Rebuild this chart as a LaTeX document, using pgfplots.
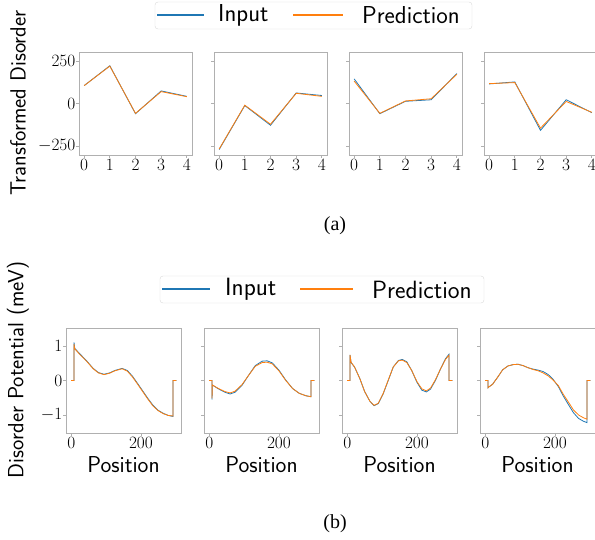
\documentclass[border=0pt]{standalone}
\usepackage{fontspec}
\usepackage{pgfplots}
\pgfplotsset{compat=1.18}
\newfontfamily\capfont{Liberation Serif}
\definecolor{inblue}{HTML}{1F77B4}
\definecolor{predorange}{HTML}{FF7F0E}
\definecolor{framegray}{RGB}{176,176,176}

\pgfplotsset{
  panel/.style={
    scale only axis, anchor=south west,
    axis line style={framegray, line width=0.8pt},
    tick style={framegray, line width=0.8pt},
    tick align=outside, major tick length=3pt,
    xtick pos=bottom, ytick pos=left,
    tick label style={font=\fontsize{16.5}{18}\selectfont},
    xticklabel style={inner ysep=1.5pt},
    yticklabel style={inner xsep=0.5pt},
  },
  toprow/.style={panel, width=113pt, height=103pt,
    xmin=-0.2, xmax=4.2, ymin=-303, ymax=303,
    xtick={0,1,2,3,4}, ytick={-250,0,250}},
  botrow/.style={panel, width=115pt, height=105pt,
    xmin=-15, xmax=315, ymin=-1.52, ymax=1.52,
    xtick={0,200}, ytick={-1,0,1},
    xlabel={Position}, xlabel style={font=\fontsize{23}{25}\sffamily, inner sep=0pt, yshift=-6pt}},
  nolabels/.style={yticklabels={}},
}

\begin{document}
\begin{tikzpicture}[x=1pt,y=1pt]

% ---- row (a): transformed disorder
\begin{axis}[toprow, at={(79pt,384pt)}]
\addplot[inblue, line width=0.8pt] coordinates {(0,105) (1,222) (2,-60) (3,74) (4,42)};
\addplot[predorange, line width=0.8pt] coordinates {(0,105) (1,220) (2,-58) (3,70) (4,40)};
\end{axis}

\begin{axis}[toprow, nolabels, at={(214pt,384pt)}]
\addplot[inblue, line width=0.8pt] coordinates {(0,-271) (1,-12) (2,-128) (3,62) (4,47)};
\addplot[predorange, line width=0.8pt] coordinates {(0,-268) (1,-10) (2,-122) (3,60) (4,42)};
\end{axis}

\begin{axis}[toprow, nolabels, at={(349pt,384pt)}]
\addplot[inblue, line width=0.8pt] coordinates {(0,145) (1,-60) (2,13) (3,22) (4,176)};
\addplot[predorange, line width=0.8pt] coordinates {(0,132) (1,-58) (2,15) (3,28) (4,172)};
\end{axis}

\begin{axis}[toprow, nolabels, at={(484pt,384pt)}]
\addplot[inblue, line width=0.8pt] coordinates {(0,115) (1,127) (2,-158) (3,22) (4,-54)};
\addplot[predorange, line width=0.8pt] coordinates {(0,117) (1,123) (2,-145) (3,12) (4,-52)};
\end{axis}

% ---- row (b): disorder potential
\begin{axis}[botrow, at={(66pt,106pt)}]
\addplot[inblue, line width=0.8pt] coordinates {(0,0) (8,0) (8,1.1) (10,0.93) (24,0.78) (44,0.57) (63,0.35)
  (78,0.23) (94,0.18) (110,0.22) (125,0.29) (146,0.35) (161,0.29) (176,0.12) (190,-0.08)
  (205,-0.30) (220,-0.52) (234,-0.71) (249,-0.86) (264,-0.95) (278,-1.01) (292,-1.04)
  (292,0) (302,0)};
\addplot[predorange, line width=0.8pt] coordinates {(0,0) (8,0) (8,1.05) (10,0.92) (24,0.76) (44,0.56) (63,0.34)
  (78,0.22) (94,0.17) (110,0.21) (125,0.28) (146,0.34) (161,0.27) (176,0.10) (190,-0.10)
  (205,-0.32) (220,-0.54) (234,-0.73) (249,-0.87) (264,-0.96) (278,-1.01) (292,-1.03)
  (292,0) (302,0)};
\end{axis}

\begin{axis}[botrow, nolabels, at={(204pt,106pt)}]
\addplot[inblue, line width=0.8pt] coordinates {(0,0) (8,0) (8,-0.55) (9,-0.13) (26,-0.24) (45,-0.34) (60,-0.39)
  (74,-0.34) (94,-0.14) (113,0.15) (132,0.43) (152,0.56) (166,0.57) (181,0.51) (200,0.30)
  (219,0.02) (239,-0.23) (258,-0.37) (277,-0.44) (292,-0.47) (292,0) (302,0)};
\addplot[predorange, line width=0.8pt] coordinates {(0,0) (8,0) (8,-0.52) (9,-0.13) (26,-0.23) (45,-0.32) (60,-0.36)
  (74,-0.31) (94,-0.12) (113,0.15) (132,0.41) (152,0.52) (166,0.53) (181,0.48) (200,0.28)
  (219,0.01) (239,-0.23) (258,-0.37) (277,-0.44) (292,-0.47) (292,0) (302,0)};
\end{axis}

\begin{axis}[botrow, nolabels, at={(342pt,106pt)}]
\addplot[inblue, line width=0.8pt] coordinates {(0,0) (8,0) (8,0.74) (11,0.52) (21,0.39) (36,0.06) (50,-0.32)
  (65,-0.60) (77,-0.73) (89,-0.67) (103,-0.39) (118,0.01) (132,0.39) (147,0.58) (158,0.61)
  (171,0.54) (185,0.29) (200,-0.05) (214,-0.28) (227,-0.33) (239,-0.25) (253,0.0)
  (268,0.34) (282,0.63) (292,0.76) (292,0) (302,0)};
\addplot[predorange, line width=0.8pt] coordinates {(0,0) (8,0) (8,0.74) (11,0.53) (21,0.39) (36,0.06) (50,-0.32)
  (65,-0.60) (77,-0.72) (89,-0.66) (103,-0.38) (118,0.02) (132,0.39) (147,0.57) (158,0.59)
  (171,0.52) (185,0.29) (200,-0.03) (214,-0.24) (227,-0.30) (239,-0.22) (253,0.02)
  (268,0.34) (282,0.61) (292,0.73) (292,0) (302,0)};
\end{axis}

\begin{axis}[botrow, nolabels, at={(480pt,106pt)}]
\addplot[inblue, line width=0.8pt] coordinates {(0,0) (8,0) (8,-0.21) (10,-0.19) (21,-0.11) (36,0.10) (50,0.31)
  (65,0.42) (80,0.46) (94,0.47) (109,0.43) (123,0.37) (137,0.33) (152,0.30) (166,0.26)
  (181,0.17) (195,0.03) (210,-0.18) (224,-0.45) (239,-0.70) (253,-0.93) (268,-1.10)
  (282,-1.18) (292,-1.22) (292,0) (302,0)};
\addplot[predorange, line width=0.8pt] coordinates {(0,0) (8,0) (8,-0.21) (10,-0.19) (21,-0.11) (36,0.10) (50,0.31)
  (65,0.42) (80,0.46) (94,0.47) (109,0.43) (123,0.37) (137,0.32) (152,0.28) (166,0.22)
  (181,0.13) (195,0.01) (210,-0.15) (224,-0.40) (239,-0.63) (253,-0.85) (268,-1.00)
  (282,-1.08) (292,-1.12) (292,0) (302,0)};
\end{axis}

% ---- legends (drawn by hand, one above each row)
\draw[black!15, fill=white, rounded corners=3pt] (155,510) rectangle (472,537);
\fill[inblue] (157,522.5) rectangle (204,524.5);
\node[anchor=west, inner sep=0pt, font=\fontsize{24.5}{27}\sffamily] at (218,523.5) {Input};
\fill[predorange] (293,522.5) rectangle (343,524.5);
\node[anchor=west, inner sep=0pt, font=\fontsize{24.5}{27}\sffamily] at (362,523.5) {Prediction};

\draw[black!15, fill=white, rounded corners=3pt] (160,236) rectangle (484,263);
\fill[inblue] (162,248.5) rectangle (210,250.5);
\node[anchor=west, inner sep=0pt, font=\fontsize{25}{27}\sffamily] at (225,249.5) {Input};
\fill[predorange] (300,248.5) rectangle (353,250.5);
\node[anchor=west, inner sep=0pt, font=\fontsize{25}{27}\sffamily] at (372,249.5) {Prediction};

% ---- row labels and captions
\node[rotate=90, font=\fontsize{22}{24}\sffamily] at (18,436) {Transformed Disorder};
\node[rotate=90, font=\fontsize{22}{24}\sffamily] at (18,169) {Disorder Potential (meV)};
\node[font=\capfont\fontsize{20}{22}\selectfont] at (335,313.5) {(a)};
\node[font=\capfont\fontsize{20}{22}\selectfont] at (335,15.5) {(b)};

\pgfresetboundingbox
\path[use as bounding box] (0,0) rectangle (595,539);
\end{tikzpicture}
\end{document}
